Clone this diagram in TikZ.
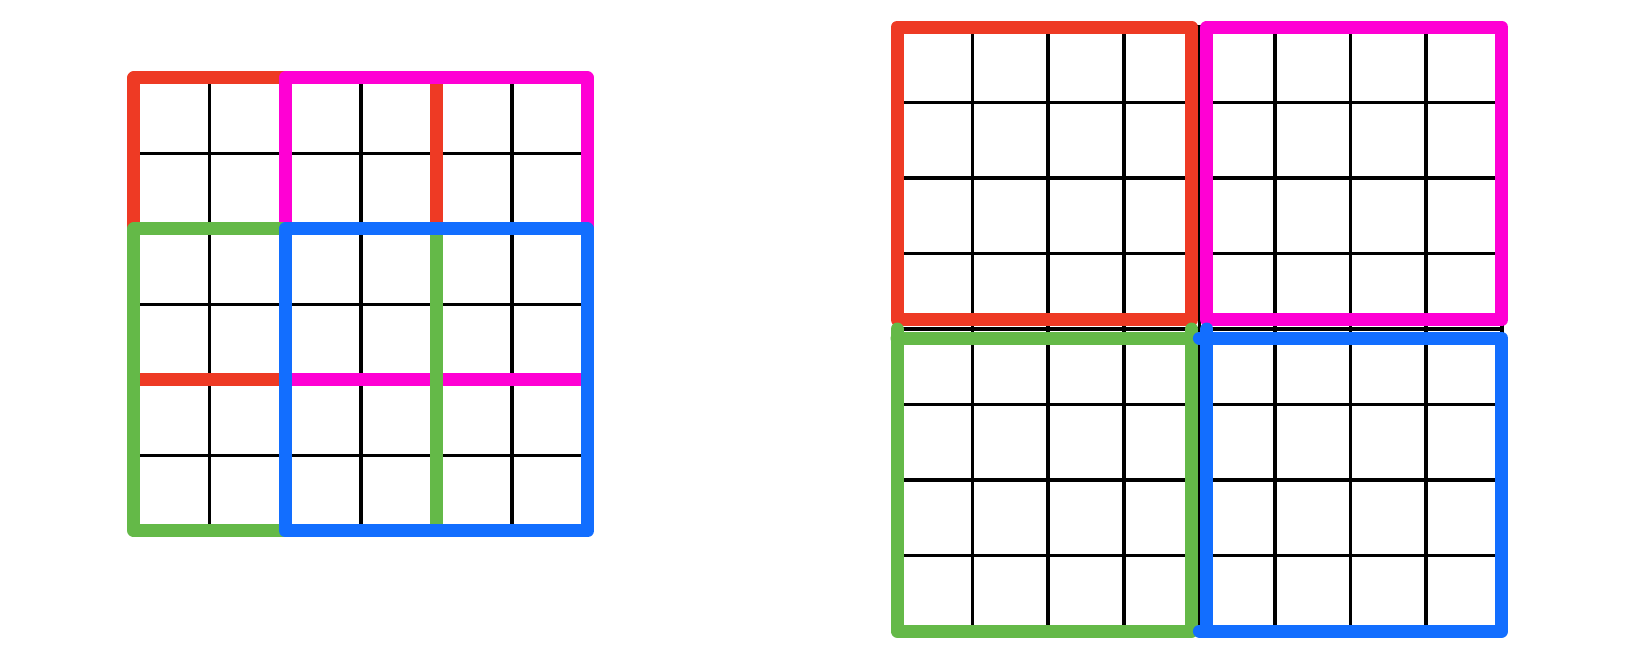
\documentclass[tikz,border=0pt]{standalone}
\usepackage{tikz}
\definecolor{winred}{RGB}{238,58,36}
\definecolor{winpink}{RGB}{255,0,212}
\definecolor{wingreen}{RGB}{100,185,72}
\definecolor{winblue}{RGB}{18,110,255}
\tikzset{win/.style={line width=3.7pt, line cap=round, line join=round}}

\begin{document}
\begin{tikzpicture}[x=0.756cm, y=0.755cm]
\useasboundingbox (0,0) rectangle (21.825,8.848);
% overlapping windows
\begin{scope}[shift={(1.772,1.815)}]
\draw[line width=1pt, step=1] (0,0) grid (6,6);
\draw[win, winred] (0,2) rectangle (4,6);
\draw[win, winpink] (2,2) rectangle (6,6);
\draw[win, wingreen] (0,0) rectangle (4,4);
\draw[win, winblue] (2,0) rectangle (6,4);
\end{scope}
% separate windows
\begin{scope}[shift={(11.865,0.49)}]
\draw[line width=1pt, step=1] (0,0) grid (8,8);
\draw[win, winred] (0,4.12) rectangle (3.9,8);
\draw[win, winpink] (4.1,4.12) rectangle (8,8);
\draw[win, wingreen] (0,4) -- (0,0) -- (3.9,0) -- (3.9,4);
\draw[win, wingreen] (0,3.88) -- (3.9,3.88);
\draw[win, winblue] (4,0) -- (8,0) -- (8,3.88) -- (4,3.88);
\draw[win, winblue] (4.1,4) -- (4.1,0);
\end{scope}
\end{tikzpicture}
\end{document}
